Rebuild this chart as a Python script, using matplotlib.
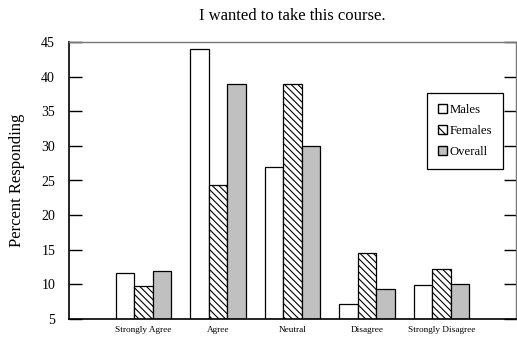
import numpy as np
import matplotlib.pyplot as plt
from matplotlib.patches import Patch

plt.rcParams['font.family'] = ['Liberation Serif', 'DejaVu Serif']
plt.rcParams['hatch.linewidth'] = 0.8

categories = ["Strongly Agree", "Agree", "Neutral", "Disagree", "Strongly Disagree"]
males = [11.7, 44.0, 27.0, 7.1, 9.9]
females = [9.8, 24.4, 39.0, 14.6, 12.2]
overall = [11.9, 39.0, 30.0, 9.4, 10.1]

fig = plt.figure(figsize=(5.17, 3.37), dpi=100)
ax = fig.add_axes([69 / 517, 1 - 319 / 337, (516 - 69) / 517, (319 - 42) / 337])

x = np.arange(len(categories))
w = 0.25
base = 5
ax.bar(x - w, np.array(males) - base, w, bottom=base, color="white",
       edgecolor="black", linewidth=0.9, label="Males")
ax.bar(x, np.array(females) - base, w, bottom=base, color="white",
       edgecolor="black", linewidth=0.9, hatch="\\\\\\\\\\", label="Females")
ax.bar(x + w, np.array(overall) - base, w, bottom=base, color="#c0c0c0",
       edgecolor="black", linewidth=0.9, label="Overall")

ax.set_xlim(-1, 5)
ax.set_ylim(5, 45)
ax.set_yticks(range(5, 46, 5))
ax.set_xticks(x)
ax.set_xticklabels(categories, fontsize=6.7)
ax.tick_params(axis="x", length=0, pad=5)
ax.tick_params(axis="y", direction="in", length=9, width=1, labelsize=10,
               right=True, pad=10)

for side in ["left", "bottom"]:
    ax.spines[side].set_linewidth(1.2)
    ax.spines[side].set_color("black")
for side in ["top", "right"]:
    ax.spines[side].set_linewidth(1.0)
    ax.spines[side].set_color("#777777")

ax.set_title("I wanted to take this course.", fontsize=12, pad=16)
ax.set_ylabel("Percent Responding", fontsize=12, labelpad=12)

handles = [
    Patch(facecolor="white", edgecolor="black", label="Males"),
    Patch(facecolor="white", edgecolor="black", hatch="\\\\\\", label="Females"),
    Patch(facecolor="#c0c0c0", edgecolor="black", label="Overall"),
]
leg = ax.legend(handles=handles, loc="upper left",
                bbox_to_anchor=((427 - 69) / 447, 1 - (93 - 42) / 277),
                fontsize=9.2, handlelength=0.75, handleheight=0.75,
                handletextpad=0.2, borderpad=0.85, labelspacing=0.7,
                fancybox=False, framealpha=1, edgecolor="black",
                borderaxespad=0)
leg.get_frame().set_linewidth(0.9)

fig.savefig("out.png", dpi=100)
